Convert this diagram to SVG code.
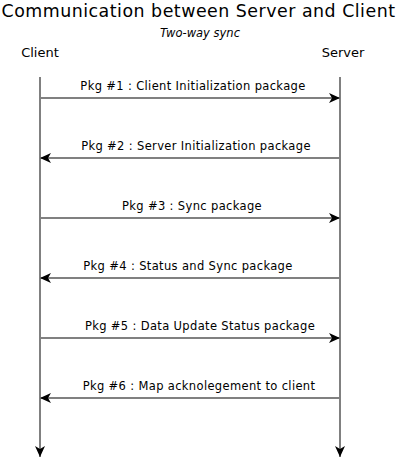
<svg xmlns="http://www.w3.org/2000/svg" width="397" height="458" viewBox="0 0 397 458">
<style>
text{font-family:"DejaVu Sans",sans-serif;fill:#000}
.t{font-size:17.4px;letter-spacing:0.5px}
.s{font-size:11.5px;font-style:italic}
.a{font-size:13px}
.l{font-size:11.5px;letter-spacing:0.35px}
.ln{stroke:#808080;stroke-width:2;fill:none}
</style>
<defs>
<marker id="ah" markerWidth="12" markerHeight="10" refX="11" refY="5" orient="auto" markerUnits="userSpaceOnUse">
<path d="M0,0 L11,5 L0,10 L3,5 Z" fill="#000"/>
</marker>
</defs>
<rect width="397" height="458" fill="#fff"/>
<text class="t" x="198.5" y="17" text-anchor="middle">Communication between Server and Client</text>
<text class="s" x="200" y="37" text-anchor="middle">Two-way sync</text>
<g id="client"><text class="a" x="40" y="57" text-anchor="middle">Client</text></g>
<g id="server"><text class="a" x="343" y="57" text-anchor="middle">Server</text></g>
<g id="connectors">
<line class="ln" x1="40" y1="77" x2="40" y2="457" marker-end="url(#ah)"/>
<line class="ln" x1="340" y1="77" x2="340" y2="457" marker-end="url(#ah)"/>
<line class="ln" x1="40" y1="98" x2="340" y2="98" marker-end="url(#ah)"/>
<line class="ln" x1="340" y1="158" x2="40" y2="158" marker-end="url(#ah)"/>
<line class="ln" x1="40" y1="218" x2="340" y2="218" marker-end="url(#ah)"/>
<line class="ln" x1="340" y1="278" x2="40" y2="278" marker-end="url(#ah)"/>
<line class="ln" x1="40" y1="338" x2="340" y2="338" marker-end="url(#ah)"/>
<line class="ln" x1="340" y1="398" x2="40" y2="398" marker-end="url(#ah)"/>
<text class="l" x="193" y="90" text-anchor="middle">Pkg #1 : Client Initialization package</text>
<text class="l" x="196" y="150" text-anchor="middle">Pkg #2 : Server Initialization package</text>
<text class="l" x="192" y="210" text-anchor="middle">Pkg #3 : Sync package</text>
<text class="l" x="188" y="270" text-anchor="middle">Pkg #4 : Status and Sync package</text>
<text class="l" x="200" y="330" text-anchor="middle">Pkg #5 : Data Update Status package</text>
<text class="l" x="199" y="390" text-anchor="middle">Pkg #6 : Map acknolegement to client</text>
</g>
</svg>
